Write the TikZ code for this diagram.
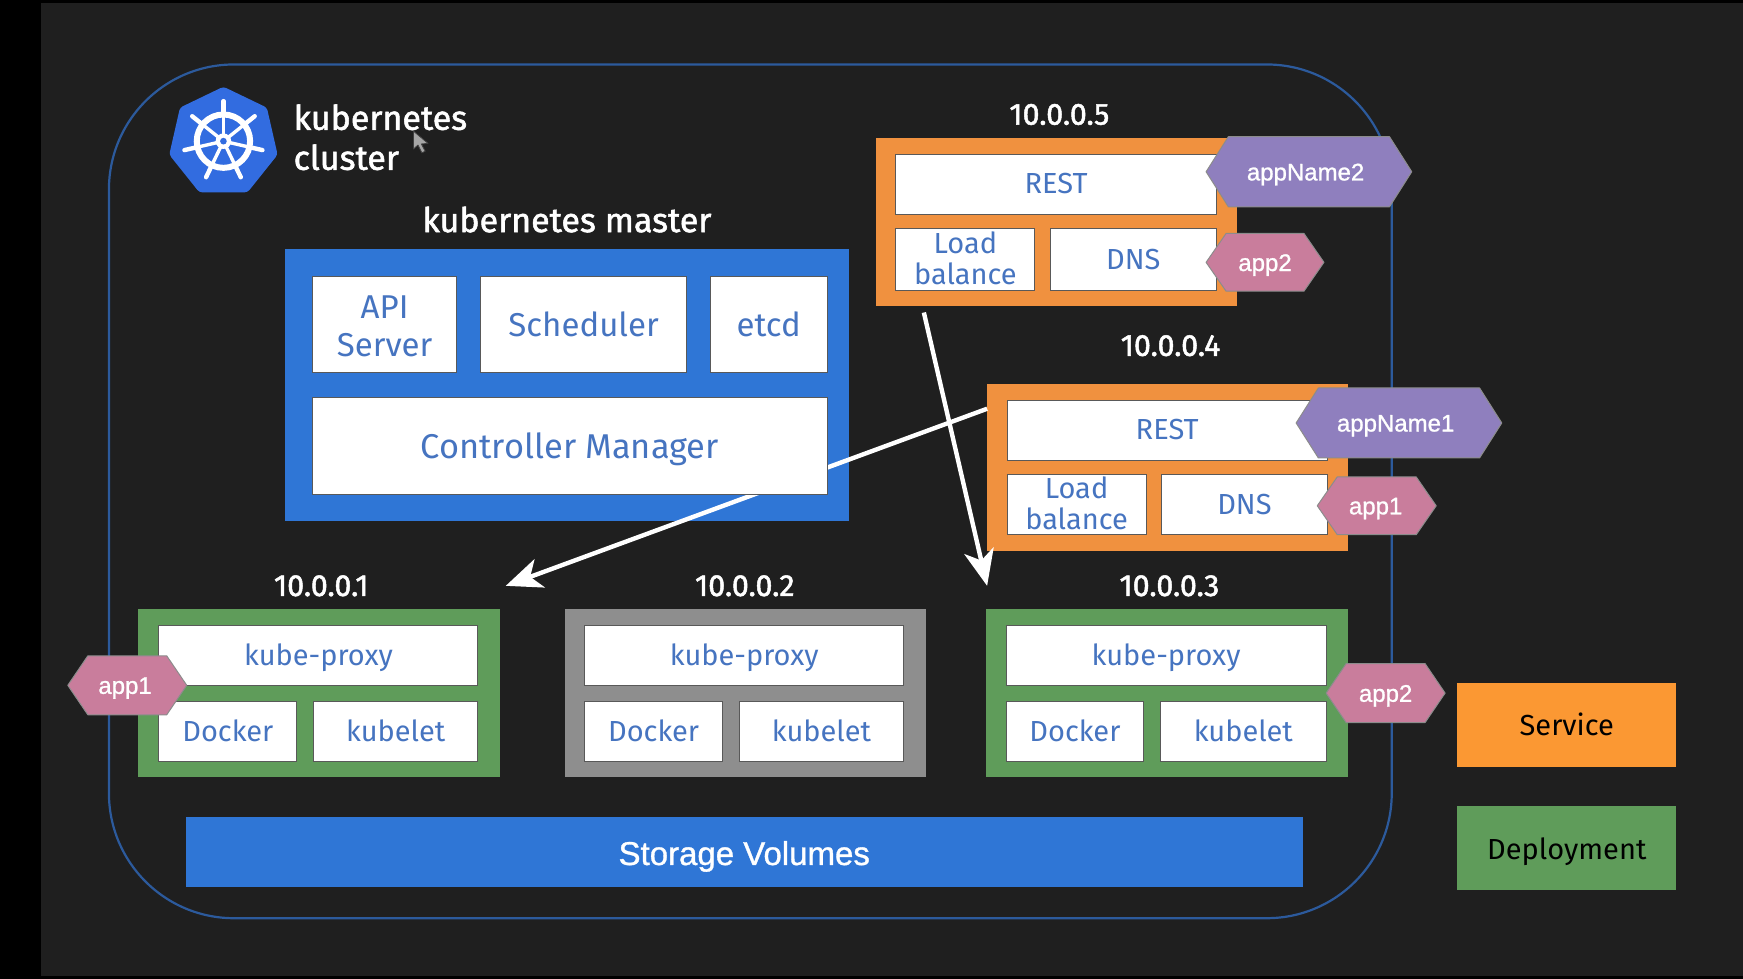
\documentclass[tikz,border=0pt]{standalone}
\usepackage{fontspec}
\setmainfont{Fira Sans}
\newfontfamily\ubm[FakeBold=1.6]{Fira Sans}
\newfontfamily\hel[FakeBold=1.0]{Liberation Sans}
\usetikzlibrary{arrows.meta}
\definecolor{bgc}{HTML}{1F1F1F}
\definecolor{kblue}{HTML}{2F76D6}
\definecolor{logoblue}{HTML}{326CE0}
\definecolor{edgeblue}{HTML}{2C5A9C}
\definecolor{txtblue}{HTML}{4674C0}
\definecolor{korange}{HTML}{F0913F}
\definecolor{lorange}{HTML}{FB9833}
\definecolor{kgreen}{HTML}{5F9C5A}
\definecolor{kgray}{HTML}{8E8E8E}
\definecolor{kpurple}{HTML}{8F7FBE}
\definecolor{kpink}{HTML}{C97D9C}
\newcommand{\fs}[1]{\fontsize{#1}{#1}\selectfont}
\tikzset{
  group/.style={inner sep=0pt,outer sep=0pt,draw=none},
  wbox/.style={fill=white,draw=black!65,line width=1pt,inner sep=0pt,outer sep=0pt,align=center,text=txtblue},
  smalltxt/.style={font=\fs{29}},
  bigtxt/.style={font=\fs{33}},
  iplabel/.style={text=white,font=\ubm\fs{30.5}},
  title/.style={text=white,font=\ubm\fs{34},align=left},
  hexfill/.style={draw=black!45,line width=1pt,line join=round},
  hextext/.style={text=white,font=\hel\fs{24}},
  flow/.style={draw=white,line width=4.4pt,-{Stealth[length=36pt,width=30pt,inset=10pt]}},
}
% name, x0, y0, x1, y1, style, text (reference coordinates)
\newcommand{\bx}[7]{%
  \pgfmathsetmacro{\bw}{(#4-#2)*1.1116}%
  \pgfmathsetmacro{\bh}{(#5-#3)*1.1116}%
  \path ({(#2+#4)/2},{(#3+#5)/2}) coordinate (#1-c);
  \node[minimum width=\bw pt,minimum height=\bh pt,#6] (#1) at (#1-c) {#7};}
% text placed separately from its box
\newcommand{\bt}[8]{%
  \bx{#1}{#2}{#3}{#4}{#5}{#6}{}
  \node[inner sep=0pt,align=center,text=txtblue,#7] (#1-t) at (#1) {#8};}
% name, x0, y0, x1, y1, inset, colour, text, text offset
\newcommand{\hexa}[9]{%
  \fill[#7,hexfill] (#2,{(#3+#5)/2}) -- ({#2+#6},#3) -- ({#4-#6},#3) -- (#4,{(#3+#5)/2}) -- ({#4-#6},#5) -- ({#2+#6},#5) -- cycle;
  \node[hextext] (#1) at ({(#2+#4)/2+#9},{(#3+#5)/2+2.5}) {#8};}
\begin{document}
\begin{tikzpicture}[x=1.1116pt,y=-1.1116pt]
\useasboundingbox (0,0) rectangle (1568,880.7);
\fill[black] (0,0) rectangle (1568,880.7);
\fill[bgc] (37,3) rectangle (1568,878);
% cluster outline
\draw[edgeblue,line width=2.2pt,rounded corners=125pt] (98,58) rectangle (1252,826);
% logo
\begin{scope}[shift={(201,128)}]
  \fill[logoblue,rounded corners=3pt] (-90:50) -- (-38.6:50) -- (12.9:50) -- (64.3:50) -- (115.7:50) -- (167.1:50) -- (-141.4:50) -- cycle;
  \begin{scope}[shift={(0,-1)}]
  \draw[white,line width=6pt] (0,0) circle (24);
  \fill[white] (0,0) circle (7);
  \fill[logoblue] (0,0) circle (3);
  \foreach \a in {-90,-38.6,12.9,64.3,115.7,167.1,-141.4}{
    \draw[white,line width=3.4pt] (\a:5) -- (\a:24);
    \draw[white,line width=4.4pt,line cap=round] (\a:24) -- (\a:36);
  }
  \end{scope}
\end{scope}
\node[title,anchor=west,inner sep=0pt] (clustertitle) at (264,123.5) {kubernetes\\[6pt]cluster};
\node[title] (mastertitle) at (510,197.5) {kubernetes master};
% master
\bx{master}{256}{224}{764}{469}{group,fill=kblue}{}
% service 10.0.0.4 frame
\bx{svcb}{888}{345}{1213}{496}{group,fill=korange}{}
\coordinate (a1end) at (455,527);
\draw[flow] (svcb.162.4) -- (a1end);
\bt{api}{281}{249}{411}{335}{wbox}{bigtxt,yshift=-2.2pt}{API\\[5pt]Server}
\bx{sched}{432}{249}{618}{335}{wbox,bigtxt}{Scheduler}
\bx{etcd}{639}{249}{744}{335}{wbox,bigtxt}{etcd}
\bt{ctrl}{281}{358}{744}{445}{wbox}{font=\fs{34.4},yshift=-3.3pt}{Controller Manager}
% service 10.0.0.5
\node[iplabel] (ip5) at (953,103) {10.0.0.5};
\bx{svca}{788}{124}{1113}{275}{group,fill=korange}{}
\bt{resta}{806}{139}{1094}{193}{wbox}{smalltxt,yshift=1pt}{REST}
\bt{lba}{806}{206}{931}{261}{wbox}{smalltxt,yshift=1pt}{Load\\[2pt]balance}
\bt{dnsa}{945}{206}{1094}{261}{wbox}{smalltxt}{DNS}
% service 10.0.0.4
\node[iplabel] (ip4) at (1053,311) {10.0.0.4};
\bt{restb}{906}{360}{1194}{414}{wbox}{smalltxt,yshift=1pt}{REST}
\bt{lbb}{906}{427}{1031}{481}{wbox}{smalltxt,yshift=1pt}{Load\\[2pt]balance}
\bt{dnsb}{1045}{427}{1194}{481}{wbox}{smalltxt}{DNS}
% nodes
\node[iplabel] (ip1) at (289,527) {10.0.0.1};
\bx{nodea}{124}{548}{450}{699}{group,fill=kgreen}{}
\bt{kpa}{143}{563}{430}{617}{wbox}{smalltxt,yshift=-2.2pt}{kube-proxy}
\bt{dka}{143}{631}{267}{685}{wbox}{smalltxt,yshift=1pt}{Docker}
\bt{kla}{282}{631}{430}{685}{wbox}{smalltxt,yshift=1pt}{kubelet}
\node[iplabel] (ip2) at (670,527) {10.0.0.2};
\bx{nodeb}{508}{548}{833}{699}{group,fill=kgray}{}
\bt{kpb}{526}{563}{813}{617}{wbox}{smalltxt,yshift=-2.2pt}{kube-proxy}
\bt{dkb}{526}{631}{650}{685}{wbox}{smalltxt,yshift=1pt}{Docker}
\bt{klb}{665}{631}{813}{685}{wbox}{smalltxt,yshift=1pt}{kubelet}
\node[iplabel] (ip3) at (1052,527) {10.0.0.3};
\bx{nodec}{887}{548}{1213}{699}{group,fill=kgreen}{}
\bt{kpc}{905}{563}{1193}{617}{wbox}{smalltxt,yshift=-2.2pt}{kube-proxy}
\bt{dkc}{905}{631}{1029}{685}{wbox}{smalltxt,yshift=1pt}{Docker}
\bt{klc}{1044}{631}{1193}{685}{wbox}{smalltxt,yshift=1pt}{kubelet}
% storage
\bt{storage}{167}{735}{1172}{798}{group,fill=kblue}{text=white,font=\hel\fs{33},yshift=-4.4pt}{Storage Volumes}
% legend
\bt{legs}{1311}{614}{1508}{690}{group,fill=lorange}{text=black,font=\fs{29}}{Service}
\bt{legd}{1311}{725}{1508}{801}{group,fill=kgreen}{text=black,font=\fs{29},yshift=-3.3pt}{Deployment}
% hexagon tags
\hexa{tna}{1085}{123}{1270}{186}{20}{kpurple}{appName2}{-3}
\hexa{taa}{1085}{210}{1191}{262}{18}{kpink}{app2}{0}
\hexa{tnb}{1166}{349}{1351}{412}{20}{kpurple}{appName1}{-3}
\hexa{tab}{1185}{429}{1292}{481}{18}{kpink}{app1}{-1}
\hexa{tac}{61}{590}{168}{643}{18}{kpink}{app1}{-2}
\hexa{tad}{1193}{597}{1300}{650}{18}{kpink}{app2}{0}
% second arrow
\coordinate (a2end) at (888,527);
\draw[flow,shorten <=7pt] (svca.212) -- (a2end);
% mouse pointer
\draw[black!75,fill=black!35,line width=0.8pt,line join=round] (372,118) -- (372,134) -- (376,130.5) -- (379.5,137.5) -- (382.5,136) -- (379,129.5) -- (385,129) -- cycle;
\end{tikzpicture}
\end{document}
